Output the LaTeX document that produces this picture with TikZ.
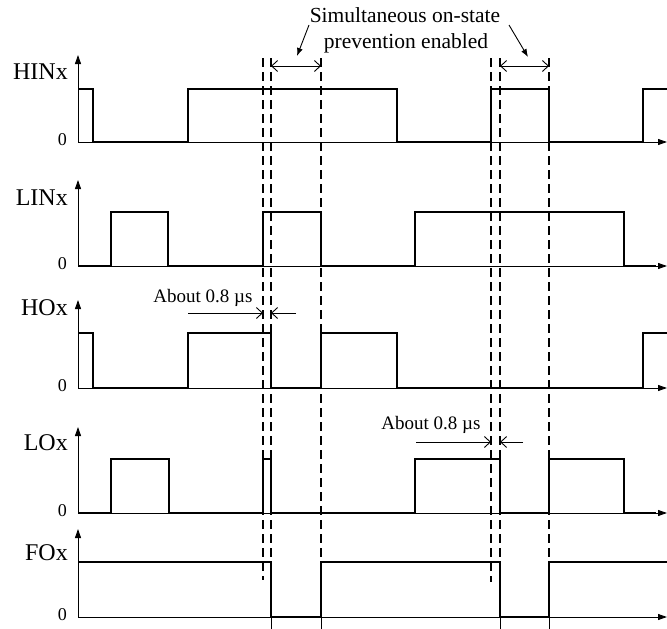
\documentclass[tikz,border=0pt]{standalone}
\usepackage{fontspec}
\setmainfont{Liberation Serif}
\usetikzlibrary{arrows.meta}
\begin{document}
\begin{tikzpicture}[x=1pt,y=-1pt,
  wave/.style={line width=2.2pt, line join=miter},
  axis/.style={line width=0.9pt,-{Triangle[length=9pt,width=6pt]}},
  vaxis/.style={line width=0.9pt,-{Triangle[length=9pt,width=6pt]}},
  guide/.style={line width=1.2pt, dash pattern=on 9pt off 5pt},
  thinline/.style={line width=0.9pt},
  sig/.style={font=\fontsize{24}{24}\selectfont, anchor=base east, inner sep=0pt},
  zerolab/.style={font=\fontsize{18}{18}\selectfont, anchor=base east, inner sep=0pt},
  note/.style={font=\fontsize{19}{19}\selectfont, inner sep=0pt},
  topnote/.style={font=\fontsize{21.5}{21.5}\selectfont, inner sep=0pt},
  spanarrow/.style={line width=0.9pt, {Straight Barb[length=6pt,width=11pt]}-{Straight Barb[length=6pt,width=11pt]}},
  gaparrow/.style={line width=0.9pt, -{Straight Barb[length=6pt,width=11pt]}},
  pointer/.style={line width=0.9pt, -{Latex[length=8pt,width=6pt]}}
]
\useasboundingbox (0,0) rectangle (667,629);

% guides
\draw[guide] (263,58) -- (263,580);
\draw[guide] (271,58) -- (271,562);
\draw[guide] (321,58) -- (321,562);
\draw[guide] (491,58) -- (491,582);
\draw[guide] (500,58) -- (500,562);
\draw[guide] (549,58) -- (549,562);

% axes
\foreach \t/\z in {55/142,180/266,300/388,427/513,529/617}{
  \draw[vaxis] (78,\z) -- (78,\t);
  \draw[axis] (78,\z) -- (667,\z);
}

% labels
\node[sig] (lhin) at (68,79) {HINx};
\node[sig] (llin) at (68,205) {LINx};
\node[sig] (lho) at (68,315) {HOx};
\node[sig] (llo) at (68,450) {LOx};
\node[sig] (lfo) at (68,560) {FOx};
\node[zerolab] (z1) at (67,145) {0};
\node[zerolab] (z2) at (67,269) {0};
\node[zerolab] (z3) at (67,391) {0};
\node[zerolab] (z4) at (67,516) {0};
\node[zerolab] (z5) at (67,620) {0};

% waveforms
\draw[wave] (78,89) -- (93,89) -- (93,142) -- (188,142) -- (188,89) -- (397,89) -- (397,142) -- (491,142) -- (491,89) -- (549,89) -- (549,142) -- (643,142) -- (643,89) -- (667,89);
\draw[wave] (78,266) -- (111,266) -- (111,212) -- (168,212) -- (168,266) -- (263,266) -- (263,212) -- (321,212) -- (321,266) -- (415,266) -- (415,212) -- (624,212) -- (624,266) -- (656,266);
\draw[wave] (78,333) -- (93,333) -- (93,388) -- (188,388) -- (188,333) -- (271,333) -- (271,388) -- (321,388) -- (321,333) -- (397,333) -- (397,388) -- (643,388) -- (643,333) -- (667,333);
\draw[wave] (78,513) -- (111,513) -- (111,459) -- (169,459) -- (169,513) -- (263,513) -- (263,459) -- (271,459) -- (271,513) -- (415,513) -- (415,459) -- (500,459) -- (500,513) -- (549,513) -- (549,459) -- (624,459) -- (624,513) -- (656,513);
\draw[wave] (78,562) -- (271,562) -- (271,617) -- (321,617) -- (321,562) -- (500,562) -- (500,617) -- (549,617) -- (549,562) -- (667,562);
\foreach \x in {271,321,500,549}{\draw[thinline] (\x,617) -- (\x,629);}

% simultaneous on-state annotation
\node[topnote] (sim1) at (405,15) {Simultaneous on-state};
\node[topnote] (sim2) at (406,43) {prevention enabled};
\coordinate (sa1) at (271,66); \coordinate (sa2) at (321,66);
\coordinate (sb1) at (500,66); \coordinate (sb2) at (549,66);
\draw[spanarrow] (sa1) -- (sa2);
\draw[spanarrow] (sb1) -- (sb2);
\coordinate (p1s) at (309,25); \coordinate (p1e) at (297,56);
\coordinate (p2s) at (509,25); \coordinate (p2e) at (528,57);
\draw[pointer] (p1s) -- (p1e);
\draw[pointer] (p2s) -- (p2e);

% about 0.8 us annotations
\node[note] (ab1) at (203,298) {About 0.8 µs};
\node[note] (ab2) at (431,425) {About 0.8 µs};
\coordinate (g1a) at (188,313); \coordinate (g1b) at (263,313);
\coordinate (g1c) at (296,313); \coordinate (g1d) at (271,313);
\draw[gaparrow] (g1a) -- (g1b);
\draw[gaparrow] (g1c) -- (g1d);
\coordinate (g2a) at (416,442); \coordinate (g2b) at (491,442);
\coordinate (g2c) at (523,442); \coordinate (g2d) at (500,442);
\draw[gaparrow] (g2a) -- (g2b);
\draw[gaparrow] (g2c) -- (g2d);
\end{tikzpicture}
\end{document}
